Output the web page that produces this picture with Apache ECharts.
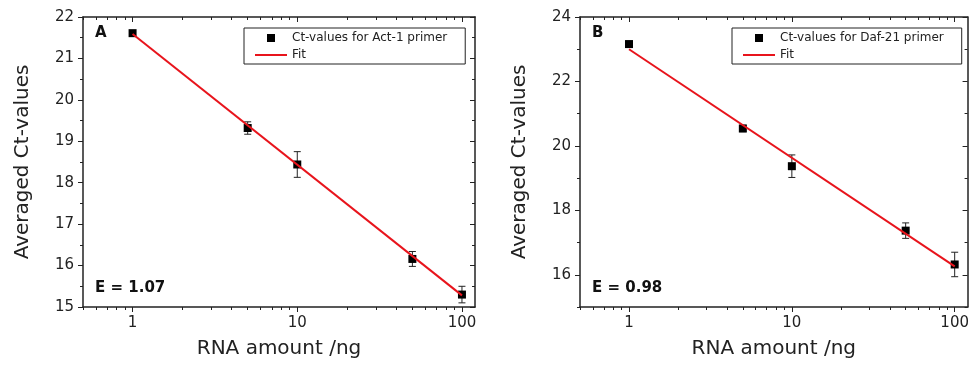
<!DOCTYPE html>
<html><head><meta charset="utf-8">
<script src="https://cdn.jsdelivr.net/npm/echarts@6/dist/echarts.min.js"></script>
<style>html,body{margin:0;padding:0;background:#fff}#c{width:972px;height:365px}</style>
</head><body><div id="c"></div>
<script>
// ---- data ----
const amounts = [1, 5, 10, 50, 100];
const ctA  = [21.61, 19.32, 18.44, 16.16, 15.30];
const errA = [0.03, 0.15, 0.31, 0.18, 0.20];
const ctB  = [23.16, 20.54, 19.37, 17.37, 16.32];
const errB = [0.05, 0.10, 0.35, 0.24, 0.38];
const fitX = [1, 100];
const fitA = [21.59, 15.28];
const fitB = [23.00, 16.26];
const nameA = 'Ct-values for Act-1 primer';
const nameB = 'Ct-values for Daf-21 primer';
const fitName = 'Fit';
const labelA = 'A', effA = 'E = 1.07';
const labelB = 'B', effB = 'E = 0.98';
const xTitle = 'RNA amount /ng';
const yTitle = 'Averaged Ct-values';
const xMajor = [1, 10, 100];
const xMinor = [0.5, 0.6, 0.7, 0.8, 0.9, 2, 3, 4, 5, 6, 7, 8, 9, 20, 30, 40, 50, 60, 70, 80, 90];
const yMajorA = [15, 16, 17, 18, 19, 20, 21, 22];
const yMinorA = [15.5, 16.5, 17.5, 18.5, 19.5, 20.5, 21.5];
const yMajorB = [16, 18, 20, 22, 24];
const yMinorB = [15, 17, 19, 21, 23];
const xRange = [0.5, 120];
const yRangeA = [15, 22];
const yRangeB = [15, 24];

// ---- helpers ----
const FF = '"DejaVu Sans", sans-serif';
const AX = '#222';
const lg = Math.log10;

function xAxes(gi) {
  const base = {type: 'value', gridIndex: gi, min: lg(xRange[0]), max: lg(xRange[1]),
    splitLine: {show: false}, axisLine: {onZero: false, lineStyle: {color: AX, width: 1.5}}};
  return [
    Object.assign({}, base, {position: 'bottom',
      axisTick: {customValues: xMajor.map(lg), length: 5, lineStyle: {color: AX, width: 1}},
      axisLabel: {customValues: xMajor.map(lg), formatter: v => String(Math.round(Math.pow(10, v))),
        fontSize: 15, fontFamily: FF, color: '#222', margin: 9},
      name: xTitle, nameLocation: 'middle', nameGap: 32,
      nameTextStyle: {fontSize: 20, fontFamily: FF, color: '#222'}}),
    Object.assign({}, base, {position: 'bottom', axisLine: {show: false, onZero: false},
      axisTick: {customValues: xMinor.map(lg), length: 3, lineStyle: {color: AX, width: 1}},
      axisLabel: {show: false}}),
    Object.assign({}, base, {position: 'top',
      axisTick: {inside: true, customValues: xMajor.map(lg), length: 5, lineStyle: {color: AX, width: 1}},
      axisLabel: {show: false}}),
    Object.assign({}, base, {position: 'top', axisLine: {show: false, onZero: false},
      axisTick: {inside: true, customValues: xMinor.map(lg), length: 3, lineStyle: {color: AX, width: 1}},
      axisLabel: {show: false}})
  ];
}
function yAxes(gi, range, major, minor) {
  const base = {type: 'value', gridIndex: gi, min: range[0], max: range[1],
    splitLine: {show: false}, axisLine: {onZero: false, lineStyle: {color: AX, width: 1.5}}};
  return [
    Object.assign({}, base, {position: 'left',
      axisTick: {customValues: major, length: 5, lineStyle: {color: AX, width: 1}},
      axisLabel: {customValues: major, fontSize: 15, fontFamily: FF, color: '#222', margin: 9},
      name: yTitle, nameLocation: 'middle', nameGap: 50,
      nameTextStyle: {fontSize: 20, fontFamily: FF, color: '#222'}}),
    Object.assign({}, base, {position: 'left', axisLine: {show: false, onZero: false},
      axisTick: {customValues: minor, length: 3, lineStyle: {color: AX, width: 1}},
      axisLabel: {show: false}}),
    Object.assign({}, base, {position: 'right',
      axisTick: {inside: true, customValues: major, length: 5, lineStyle: {color: AX, width: 1}},
      axisLabel: {show: false}}),
    Object.assign({}, base, {position: 'right', axisLine: {show: false, onZero: false},
      axisTick: {inside: true, customValues: minor, length: 3, lineStyle: {color: AX, width: 1}},
      axisLabel: {show: false}})
  ];
}
function errRender(params, api) {
  const x = api.value(0), y = api.value(1), e = api.value(2);
  const t = api.coord([x, y + e]), b = api.coord([x, y - e]);
  const hw = 3.5, st = {stroke: '#222', lineWidth: 1};
  return {type: 'group', children: [
    {type: 'line', shape: {x1: t[0], y1: t[1], x2: b[0], y2: b[1]}, style: st},
    {type: 'line', shape: {x1: t[0] - hw, y1: t[1], x2: t[0] + hw, y2: t[1]}, style: st},
    {type: 'line', shape: {x1: b[0] - hw, y1: b[1], x2: b[0] + hw, y2: b[1]}, style: st}
  ]};
}
function panelSeries(k, name, ct, err, fit) {
  const xi = k * 4, yi = k * 4;
  return [
    {type: 'custom', name: 'err' + k, xAxisIndex: xi, yAxisIndex: yi, renderItem: errRender,
      encode: {x: 0, y: 1}, z: 2, silent: true,
      data: amounts.map((a, i) => [lg(a), ct[i], err[i]])},
    {type: 'scatter', name: name, xAxisIndex: xi, yAxisIndex: yi, symbol: 'rect', symbolSize: 8,
      itemStyle: {color: '#000', opacity: 1}, z: 3,
      data: amounts.map((a, i) => [lg(a), ct[i]])},
    {type: 'line', name: fitName, xAxisIndex: xi, yAxisIndex: yi, symbol: 'none', z: 4,
      lineStyle: {color: '#e8141c', width: 2}, itemStyle: {color: '#e8141c'},
      data: fitX.map((a, i) => [lg(a), fit[i]])}
  ];
}
function legend(left, name) {
  return {left: left, top: 28, orient: 'vertical',
    data: [
      {name: name, icon: 'path://M0,0L1,0L1,1L0,1Z', itemStyle: {opacity: 1}},
      {name: fitName, icon: 'path://M0,0L32,0L32,2L0,2Z'}
    ],
    symbolKeepAspect: true,
    itemWidth: 32, itemHeight: 8, itemGap: 3, padding: [3, 18, 2, 11],
    borderColor: '#222', borderWidth: 1, selectedMode: false,
    textStyle: {fontSize: 12, fontFamily: FF, color: '#222', lineHeight: 14}};
}
function txt(left, top, s) {
  return {type: 'text', left: left, top: top, z: 10,
    style: {text: s, font: 'bold 15px ' + FF, fill: '#111'}};
}

const chart = echarts.init(document.getElementById('c'), null, {renderer: 'canvas'});
chart.setOption({
  animation: false,
  backgroundColor: '#fff',
  grid: [
    {left: 83, top: 17, width: 392, height: 290},
    {left: 580, top: 17, width: 391, height: 290}
  ],
  xAxis: xAxes(0).concat(xAxes(1)),
  yAxis: yAxes(0, yRangeA, yMajorA, yMinorA).concat(yAxes(1, yRangeB, yMajorB, yMinorB)),
  legend: [legend(244, nameA), legend(732, nameB)],
  graphic: [txt(95, 26, labelA), txt(95, 281, effA), txt(592, 26, labelB), txt(592, 281, effB)],
  series: panelSeries(0, nameA, ctA, errA, fitA).concat(panelSeries(1, nameB, ctB, errB, fitB))
});
</script></body></html>
